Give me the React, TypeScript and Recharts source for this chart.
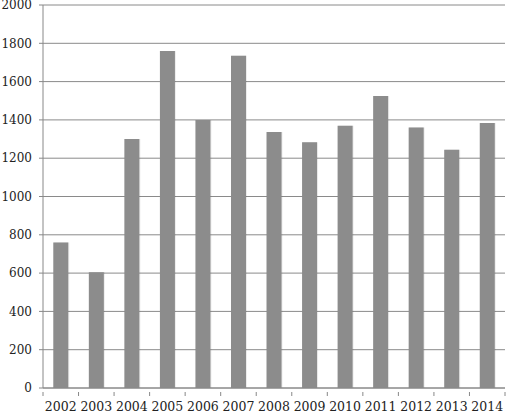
import { Bar, BarChart, CartesianGrid, XAxis, YAxis } from "recharts";

const years = ["2002", "2003", "2004", "2005", "2006", "2007", "2008", "2009", "2010", "2011", "2012", "2013", "2014"];
const counts = [760, 605, 1300, 1760, 1400, 1735, 1337, 1283, 1370, 1525, 1360, 1244, 1384];
const yTicks = [0, 200, 400, 600, 800, 1000, 1200, 1400, 1600, 1800, 2000];

const data = years.map((year, i) => ({ year, count: counts[i] }));

const W = 509;
const H = 417;
const LEFT = 43;
const RIGHT = 4;
const STEP = (W - LEFT - RIGHT) / years.length;
const FONT = "'DejaVu Serif', serif";

function YearTick(props: any) {
  const { x, y, payload, index } = props;
  return (
    <g>
      {index === 0 && (
        <line x1={x - STEP / 2} x2={x - STEP / 2} y1={y - 4} y2={y} stroke="#888" />
      )}
      <line x1={x + STEP / 2} x2={x + STEP / 2} y1={y - 4} y2={y} stroke="#888" />
      <text
        x={x}
        y={y + 15}
        textAnchor="middle"
        fill="#222"
        fontSize={12.5}
        fontFamily={FONT}
      >
        {payload.value}
      </text>
    </g>
  );
}

export default function App() {
  return (
    <div style={{ position: "absolute", left: 0, top: 0, background: "#fff" }}>
      <BarChart
        width={W}
        height={H}
        data={data}
        margin={{ top: 5, right: RIGHT, left: 0, bottom: 0 }}
        barCategoryGap="29%"
      >
        <defs>
          <filter id="barShadow" x="-20%" y="-5%" width="150%" height="110%">
            <feDropShadow dx="0.5" dy="0" stdDeviation="0.6" floodColor="#000" floodOpacity="0.15" />
          </filter>
        </defs>
        <CartesianGrid vertical={false} stroke="#8a8a8a" strokeWidth={1} />
        <XAxis
          dataKey="year"
          height={29}
          axisLine={{ stroke: "#888" }}
          tickLine={false}
          tick={<YearTick />}
          interval={0}
        />
        <YAxis
          width={LEFT}
          domain={[0, 2000]}
          ticks={yTicks}
          interval={0}
          axisLine={{ stroke: "#888" }}
          tickLine={{ stroke: "#888" }}
          tickSize={4}
          tickMargin={7}
          tick={{ fill: "#222", fontSize: 12, fontFamily: FONT }}
        />
        <Bar
          dataKey="count"
          fill="#8c8c8c"
          filter="url(#barShadow)"
          isAnimationActive={false}
        />
      </BarChart>
    </div>
  );
}
